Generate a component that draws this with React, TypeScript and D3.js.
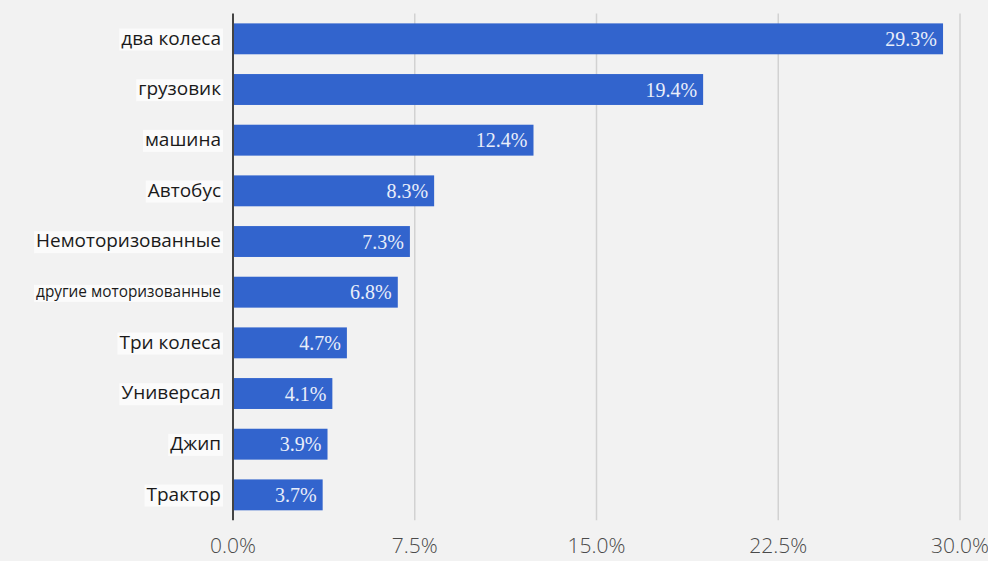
import * as d3 from "d3";
import { useEffect, useRef } from "react";

const CATEGORIES = [
  "два колеса",
  "грузовик",
  "машина",
  "Автобус",
  "Немоторизованные",
  "другие моторизованные",
  "Три колеса",
  "Универсал",
  "Джип",
  "Трактор",
];

const SHARES = [29.3, 19.4, 12.4, 8.3, 7.3, 6.8, 4.7, 4.1, 3.9, 3.7];

const TICKS = [0, 7.5, 15, 22.5, 30];

const WIDTH = 988;
const HEIGHT = 561;

export default function App() {
  const ref = useRef<SVGSVGElement>(null);

  useEffect(() => {
    if (!ref.current) return;
    document.body.style.margin = "0";

    const svg = d3.select(ref.current);
    svg.selectAll("*").remove();

    const x = d3.scaleLinear().domain([0, 30]).range([233, 960]);
    const y = d3
      .scaleBand<string>()
      .domain(CATEGORIES)
      .range([13.5, 520.2])
      .paddingInner(0.39)
      .paddingOuter(0.195);

    const [top, bottom] = y.range();

    svg
      .append("rect")
      .attr("width", WIDTH)
      .attr("height", HEIGHT)
      .attr("fill", "#f2f2f2");

    // gridlines
    svg
      .selectAll(".grid")
      .data(TICKS.filter((t) => t > 0))
      .join("line")
      .attr("class", "grid")
      .attr("x1", (d) => x(d))
      .attr("x2", (d) => x(d))
      .attr("y1", top)
      .attr("y2", bottom)
      .attr("stroke", "#d2d2d2")
      .attr("stroke-width", 1.5);

    // bars
    svg
      .selectAll(".bar")
      .data(SHARES)
      .join("rect")
      .attr("class", "bar")
      .attr("x", x(0))
      .attr("y", (_, i) => y(CATEGORIES[i])!)
      .attr("width", (d) => x(d) - x(0))
      .attr("height", y.bandwidth())
      .attr("fill", "#3264cd");

    // value labels
    svg
      .selectAll(".value")
      .data(SHARES)
      .join("text")
      .attr("class", "value")
      .attr("x", (d) => x(d) - 6)
      .attr("y", (_, i) => y(CATEGORIES[i])! + y.bandwidth() / 2)
      .attr("dy", "0.36em")
      .attr("text-anchor", "end")
      .style("font-family", "'Liberation Serif', 'DejaVu Serif', serif")
      .style("font-size", "20px")
      .style("fill", "#e9eefa")
      .text((d) => `${d.toFixed(1)}%`);

    // axis line
    svg
      .append("line")
      .attr("x1", x(0))
      .attr("x2", x(0))
      .attr("y1", top)
      .attr("y2", bottom)
      .attr("stroke", "#444")
      .attr("stroke-width", 2);

    // category labels with a soft white background
    const labels = svg
      .selectAll(".cat")
      .data(CATEGORIES)
      .join("g")
      .attr("class", "cat");

    const texts = labels
      .append("text")
      .attr("x", 221)
      .attr("y", (d) => y(d)! + y.bandwidth() / 2)
      .attr("dy", "0.3em")
      .attr("text-anchor", "end")
      .style("font-family", "'Open Sans', 'Noto Sans', sans-serif")
      .style("font-size", "19px")
      .style("fill", "#1a1a1a")
      .text((d) => d);

    texts.each(function () {
      const el = this as SVGTextElement;
      const w = el.getComputedTextLength();
      if (w > 185) {
        el.style.fontSize = `${(19 * 185) / w}px`;
      }
    });

    labels.each(function () {
      const g = d3.select(this);
      const el = g.select<SVGTextElement>("text").node()!;
      const b = el.getBBox();
      g.insert("rect", "text")
        .attr("x", b.x - 2)
        .attr("y", b.y + 4)
        .attr("width", b.width + 4)
        .attr("height", b.height - 4)
        .attr("fill", "#fbfbfb");
    });

    // tick labels
    svg
      .selectAll(".tick")
      .data(TICKS)
      .join("text")
      .attr("class", "tick")
      .attr("x", (d) => x(d))
      .attr("y", 553)
      .attr("text-anchor", "middle")
      .style("font-family", "'Open Sans', 'Noto Sans', sans-serif")
      .style("font-weight", "300")
      .style("font-size", "21px")
      .style("fill", "#4a4a4a")
      .text((d) => `${d.toFixed(1)}%`);
  }, []);

  return (
    <div style={{ position: "fixed", left: 0, top: 0 }}>
      <svg ref={ref} width={WIDTH} height={HEIGHT} style={{ display: "block" }} />
    </div>
  );
}
